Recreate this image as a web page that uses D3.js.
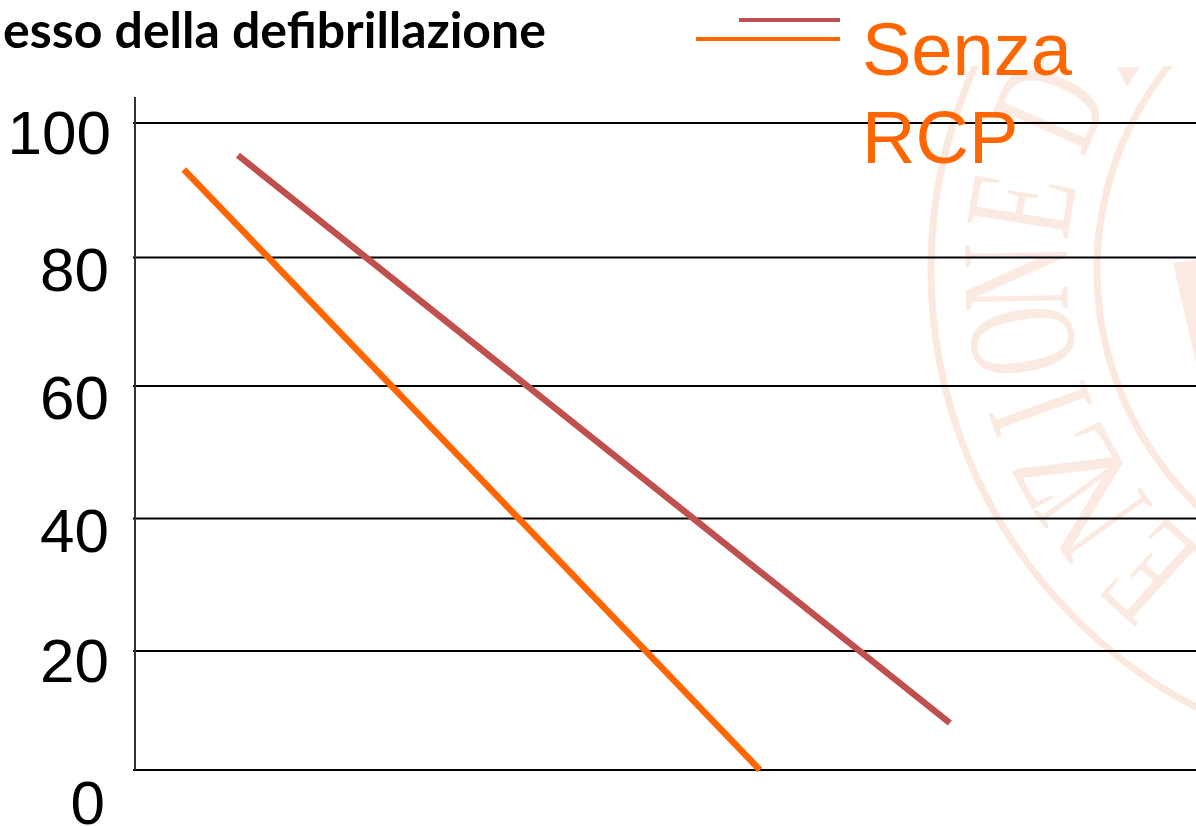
<!DOCTYPE html>
<html>
<head>
<meta charset="utf-8">
<script src="https://cdn.jsdelivr.net/npm/d3@7"></script>
<style>
  html, body { margin: 0; padding: 0; background: #fff; overflow: hidden; }
  svg { display: block; }
</style>
</head>
<body>
<div id="chart"></div>
<script>
// --- Data ---
const yTicks = [0, 20, 40, 60, 80, 100];
const withRcpX = [0.97, 7.68];
const withRcpY = [95.2, 7.9];
const noRcpX = [0.46, 5.89];
const noRcpY = [93.1, 0];
const titleText = "esso della defibrillazione";
const legendLabel = ["Senza", "RCP"];
const sealLetters = ["E", "N", "Z", "I", "O", "N", "E", "D"];

// --- Layout ---
const W = 1196, H = 826;
const axisX = 135;
const tickPixels = [770, 651, 518.5, 386, 257.5, 123]; // the source axis is unevenly spaced
const labelShift = [54, 31, 33.5, 33, 33, 31];
const labelRight = [-30, -26, -26, -26, -26, -24];
const sealAngles = [-47.7, -35.8, -28.7, -19.9, -10, -1, 9.25, 23.6];
const orange = "#ff6600", brown = "#c0504d";

const x = d3.scaleLinear().domain([0, 10]).range([axisX, W]);
const y = d3.scaleLinear().domain(yTicks).range(tickPixels);

const svg = d3.select("#chart").append("svg")
  .attr("width", W)
  .attr("height", H);

// --- Watermark seal ---
const sealCx = 1424, sealCy = 270, sealR = 408;
svg.append("clipPath").attr("id", "sealClip")
  .append("rect").attr("x", 0).attr("y", 66).attr("width", W).attr("height", H);

const seal = svg.append("g")
  .attr("clip-path", "url(#sealClip)")
  .attr("opacity", 0.8);

seal.selectAll("circle")
  .data([{ r: 493, w: 7 }, { r: 327, w: 7 }])
  .join("circle")
  .attr("cx", sealCx)
  .attr("cy", sealCy)
  .attr("r", d => d.r)
  .attr("fill", "none")
  .attr("stroke", "#fbe3d6")
  .attr("stroke-width", d => d.w);

seal.selectAll(".seal-letter")
  .data(sealLetters)
  .join("text")
  .attr("class", "seal-letter")
  .attr("transform", (d, i) => {
    const a = sealAngles[i] * Math.PI / 180;
    const px = sealCx - sealR * Math.cos(a);
    const py = sealCy - sealR * Math.sin(a);
    return `translate(${px},${py}) rotate(${sealAngles[i] - 90}) scale(0.62,1)`;
  })
  .attr("y", 51)
  .attr("text-anchor", "middle")
  .attr("font-family", "'Liberation Serif', serif")
  .attr("font-size", 155)
  .attr("fill", "#fbe6da")
  .text(d => d);

seal.append("polygon")
  .attr("points", "1173,263 1196,260 1196,363")
  .attr("fill", "#fbe6da");
seal.append("polygon")
  .attr("points", "1117,67 1140,67 1127,87")
  .attr("fill", "#fbe6da");

// --- Axis and grid ---
const yAxis = d3.axisLeft(y)
  .tickValues(yTicks)
  .tickFormat(d3.format("d"))
  .tickSizeOuter(0)
  .tickSizeInner(-(W - axisX))
  .offset(0);

const axisG = svg.append("g")
  .attr("transform", `translate(${axisX},0)`)
  .call(yAxis);

axisG.select(".domain").remove();
axisG.selectAll(".tick line")
  .attr("x1", -2)
  .attr("stroke", "#000")
  .attr("stroke-width", 2);
axisG.selectAll(".tick text")
  .attr("x", (d, i) => labelRight[i])
  .attr("dy", (d, i) => labelShift[i])
  .attr("font-family", "'Liberation Sans', Arial, sans-serif")
  .attr("font-size", 62)
  .attr("fill", "#000");

svg.append("line")
  .attr("x1", axisX).attr("x2", axisX)
  .attr("y1", 97).attr("y2", y(0))
  .attr("stroke", "#333")
  .attr("stroke-width", 2);

// --- Lines ---
const line = d3.line().x(d => x(d[0])).y(d => y(d[1]));

svg.append("path")
  .attr("d", line(d3.zip(noRcpX, noRcpY)))
  .attr("fill", "none")
  .attr("stroke", orange)
  .attr("stroke-width", 6.5);

svg.append("path")
  .attr("d", line(d3.zip(withRcpX, withRcpY)))
  .attr("fill", "none")
  .attr("stroke", brown)
  .attr("stroke-width", 6.5);

// --- Title ---
svg.append("text")
  .attr("x", 3)
  .attr("y", 48)
  .attr("font-family", "Lato, sans-serif")
  .attr("font-weight", 700)
  .attr("font-size", 50)
  .attr("fill", "#000")
  .text(titleText);

// --- Legend ---
svg.append("line")
  .attr("x1", 739).attr("x2", 840).attr("y1", 20).attr("y2", 20)
  .attr("stroke", brown).attr("stroke-width", 4);
svg.append("line")
  .attr("x1", 696).attr("x2", 840).attr("y1", 39).attr("y2", 39)
  .attr("stroke", orange).attr("stroke-width", 4);

svg.selectAll(".legend-label")
  .data(legendLabel)
  .join("text")
  .attr("class", "legend-label")
  .attr("x", 862)
  .attr("y", (d, i) => 75 + i * 88)
  .attr("font-family", "'Liberation Sans', Arial, sans-serif")
  .attr("font-size", 74)
  .attr("fill", orange)
  .text(d => d);
</script>
</body>
</html>
